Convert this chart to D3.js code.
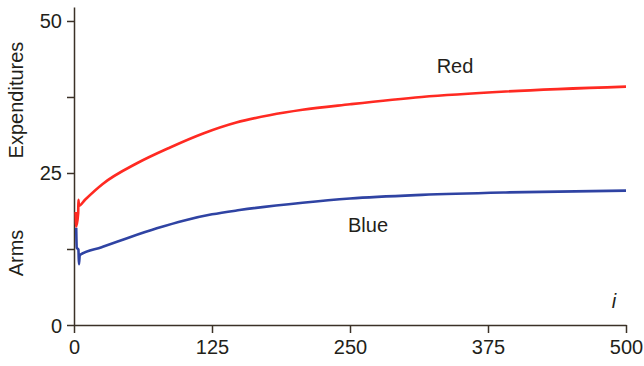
<!DOCTYPE html>
<html>
<head>
<meta charset="utf-8">
<script src="https://cdn.jsdelivr.net/npm/d3@7"></script>
<style>
  body { margin: 0; background: #fff; }
  svg { display: block; font-family: "Liberation Sans", Arial, Helvetica, sans-serif; }
</style>
</head>
<body>
<svg id="chart" width="644" height="366"></svg>
<script>
// values
const redI  = [1.5, 2, 3.8, 4, 4.5, 10, 26, 57, 87, 117, 147, 177, 207, 250, 315, 391, 500];
const redV  = [18.6, 16.2, 18.4, 20.6, 19.6, 20.6, 23.2, 26.6, 29.2, 31.5, 33.3, 34.5, 35.4, 36.3, 37.5, 38.4, 39.2];
const blueI = [2, 2.5, 4, 4.5, 5.2, 25, 50, 75, 100, 125, 150, 207, 250, 315, 391, 500];
const blueV = [16, 12.7, 12.4, 10, 11.5, 12.8, 14.4, 15.9, 17.2, 18.2, 18.9, 20.1, 20.8, 21.4, 21.8, 22.1];
const xTicks = [0, 125, 250, 375, 500];
const yTicks = [0, 12.5, 25, 37.5, 50];
const yLabels = [0, 25, 50];

const svg = d3.select("#chart");
const axisColor = "#3b3127";

const x = d3.scaleLinear().domain([0, 500]).range([74, 626]);
const y = d3.scaleLinear().domain([0, 52.3]).range([325, 7]);

// axes
const xAxis = d3.axisBottom(x).tickValues(xTicks).tickSize(8).tickPadding(7).tickSizeOuter(0);
const gx = svg.append("g").attr("transform", "translate(0,325)").call(xAxis);

const yAxis = d3.axisLeft(y).tickValues(yTicks).tickSize(7).tickPadding(5).tickSizeOuter(0)
  .tickFormat(d => yLabels.includes(d) ? d : "");
const gy = svg.append("g").attr("transform", "translate(74,0)").call(yAxis);

[gx, gy].forEach(g => {
  g.selectAll("path, line").attr("stroke", axisColor).attr("stroke-width", 1.5);
  g.selectAll("text").attr("fill", "#231f1a").style("font-size", "20px");
});
gy.selectAll("text").attr("dy", "0.35em");

// lines
const line = d3.line().x(d => x(d[0])).y(d => y(d[1])).curve(d3.curveMonotoneX);

svg.append("path")
  .datum(d3.zip(blueI, blueV))
  .attr("fill", "none")
  .attr("stroke", "#2f43a3")
  .attr("stroke-width", 2.6)
  .attr("stroke-linejoin", "round")
  .attr("d", line);

svg.append("path")
  .datum(d3.zip(redI, redV))
  .attr("fill", "none")
  .attr("stroke", "#ff2a22")
  .attr("stroke-width", 2.6)
  .attr("stroke-linejoin", "round")
  .attr("d", line);

// text labels
const txt = (s, px, py, opts = {}) => svg.append("text")
  .attr("x", px).attr("y", py)
  .attr("text-anchor", opts.anchor || "middle")
  .attr("fill", "#231f1a")
  .style("font-size", "20px")
  .style("font-style", opts.italic ? "italic" : "normal")
  .attr("transform", opts.rotate ? `rotate(-90,${px},${py})` : null)
  .text(s);

txt("Red", 455, 73);
txt("Blue", 368, 232);
txt("i", 614, 308, { italic: true });
txt("Expenditures", 23, 100, { rotate: true });
txt("Arms", 23, 253, { rotate: true });
</script>
</body>
</html>
